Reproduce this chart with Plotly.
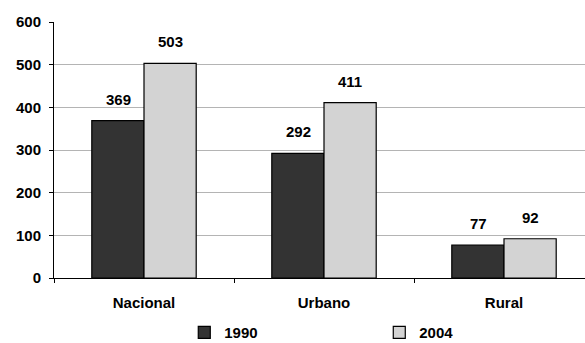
import plotly.graph_objects as go

categories = ["Nacional", "Urbano", "Rural"]
values_1990 = [369, 292, 77]
values_2004 = [503, 411, 92]
series_names = ["1990", "2004"]
series_colors = ["#333333", "#d3d3d3"]
y_ticks = [0, 100, 200, 300, 400, 500, 600]

font_family = "Liberation Sans, Arial, sans-serif"
bold_font = dict(family=font_family, size=15, color="#000000", weight="bold")

fig = go.Figure()
for name, vals, color in zip(series_names, [values_1990, values_2004], series_colors):
    fig.add_trace(go.Bar(
        x=categories, y=vals, name=name,
        marker=dict(color=color, line=dict(color="#000000", width=1.2)),
    ))

# value labels above each bar
half_offset = 26
for shift, vals in zip([-half_offset, half_offset], [values_1990, values_2004]):
    for cat, v in zip(categories, vals):
        fig.add_annotation(
            x=cat, y=v, text=str(v), showarrow=False,
            xshift=shift, yshift=11, yanchor="bottom",
            font=bold_font,
        )

fig.update_layout(
    width=585, height=343,
    margin=dict(l=54, r=0, t=22, b=65, autoexpand=False),
    paper_bgcolor="white", plot_bgcolor="white",
    barmode="group", bargap=0.42, bargroupgap=0,
    font=bold_font,
    showlegend=True,
    legend=dict(
        orientation="h", xref="container", yref="container",
        x=0.315, y=0.03, xanchor="left", yanchor="middle",
        entrywidth=150, entrywidthmode="pixels",
        font=bold_font, bgcolor="rgba(0,0,0,0)",
    ),
)

fig.update_xaxes(
    range=[-0.5, 2.45], showline=True, linecolor="#000000", linewidth=1,
    ticks="outside", ticklen=4, tickcolor="#000000",
    tickson="boundaries", showgrid=False, ticklabelstandoff=11,
    tickfont=bold_font,
)
fig.update_yaxes(
    range=[0, 600], tickvals=y_ticks, showline=True, linecolor="#000000", linewidth=1,
    ticks="outside", ticklen=4, tickcolor="#000000", ticklabelstandoff=5,
    showgrid=True, gridcolor="#b4b4b4", gridwidth=1, zeroline=False,
    tickfont=bold_font,
)

fig.write_html("out.html")
